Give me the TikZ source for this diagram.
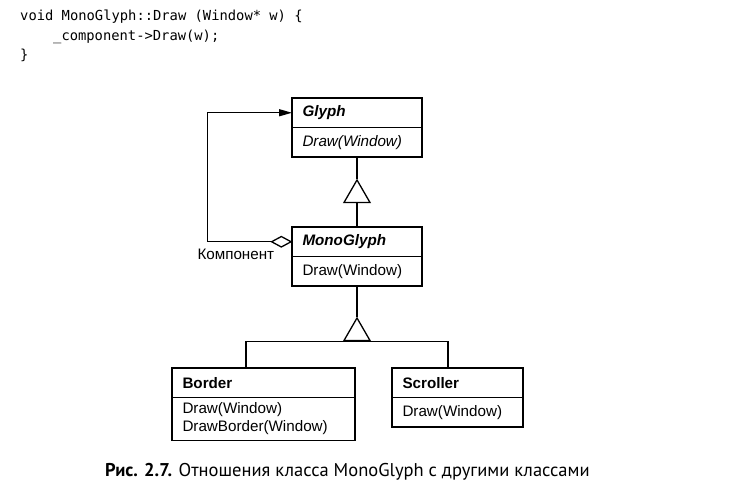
\documentclass[tikz,border=0pt]{standalone}
\usepackage{fontspec}
\setmainfont{Liberation Sans}
\newfontfamily\capfont{PT Sans}
\newfontfamily\srcfont{DejaVu Sans Mono}
\usetikzlibrary{arrows.meta,positioning,shapes.geometric}
\newcommand{\umlfont}{\fontsize{15.2}{18}\selectfont}

\begin{document}
\begin{tikzpicture}[
    x=1pt, y=-1pt,
    clsname/.style={draw, line width=1.3pt, outer sep=0pt, text width=#1, align=left, inner xsep=10.5pt, minimum height=29.5pt, font=\umlfont\bfseries},
    clsops/.style={draw, line width=1.3pt, outer sep=0pt, text width=#1, align=left, inner xsep=10.5pt, minimum height=29.5pt, font=\umlfont},
    gen/.style={draw, fill=white, regular polygon, regular polygon sides=3, minimum size=30pt, inner sep=0pt, line width=1.3pt},
    agg/.style={draw, fill=white, diamond, minimum width=20pt, minimum height=11pt, inner sep=0pt, line width=1.3pt},
    conn/.style={line width=1.3pt},
    lbl/.style={font=\umlfont, inner sep=1pt},
    code/.style={font=\srcfont\fontsize{13.8}{19.5}\selectfont, align=left, inner sep=0pt},
    capt/.style={font=\capfont\fontsize{18.5}{21}\selectfont, inner sep=0pt}
]
\useasboundingbox (0,0) rectangle (734,498);

% Code listing
\node[code, anchor=north west] (listing) at (20,10) {void MonoGlyph::Draw (Window* w) \{\\\hspace*{33pt}\_component->Draw(w);\\\}};

% Classes
\node[clsname=109pt, anchor=north west] (glyph) at (292,98) {\textit{Glyph}};
\node[clsops=109pt, below=0pt of glyph] (glyphops) {\textit{Draw(Window)}};
\node[clsname=109pt, below=70pt of glyphops] (mono) {\textit{MonoGlyph}};
\node[clsops=109pt, below=0pt of mono] (monoops) {Draw(Window)};
\node[clsname=162pt, anchor=north west] (border) at (172,368) {Border};
\node[clsops=162pt, below=0pt of border, minimum height=43pt] (borderops) {Draw(Window)\\DrawBorder(Window)};
\node[clsname=110pt, anchor=north west] (scroller) at (392,368) {Scroller};
\node[clsops=110pt, below=0pt of scroller] (scrollerops) {Draw(Window)};

% Generalisation
\node[gen] (gen1) at (357,195) {};
\node[gen] (gen2) at (357,333) {};
\draw[conn] (glyphops) -- (gen1.corner 1);
\draw[conn] (gen1.side 2) -- (mono);
\draw[conn] (monoops) -- (gen2.corner 1);
\draw[conn] (gen2.side 2) -| ([xshift=-17.5pt]border.north);
\draw[conn] (gen2.side 2) -| ([xshift=-9.5pt]scroller.north);

% Aggregation
\node[agg, anchor=east] (agg) at (mono.west) {};
\draw[conn, -{Triangle[length=13pt,width=7pt]}] (agg.west) -- ++(-63,0) |- (glyph);
\node[lbl, anchor=north east] (complbl) at ([xshift=-6pt]agg.south) {Компонент};

% Caption
\node[capt, anchor=base west] (caption) at (105,476) {\textbf{Рис. 2.7.} Отношения класса MonoGlyph с другими классами};

\end{tikzpicture}
\end{document}
